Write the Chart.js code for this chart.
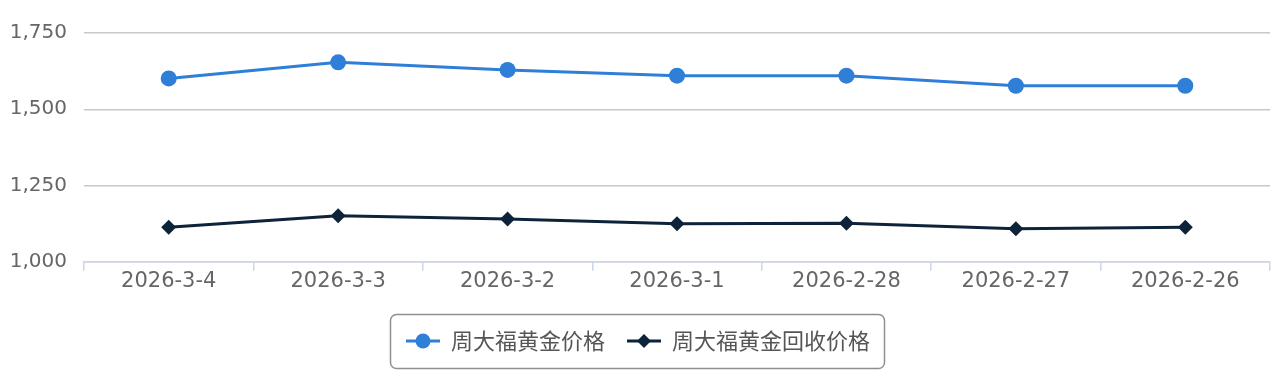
<!DOCTYPE html>
<html>
<head>
<meta charset="utf-8">
<script src="https://cdn.jsdelivr.net/npm/chart.js@4.4.1/dist/chart.umd.min.js"></script>
<style>
  html, body { margin: 0; padding: 0; background: #fff; }
  #wrap { width: 1280px; height: 371px; }
</style>
</head>
<body>
<div id="wrap"><canvas id="chart"></canvas></div>
<script>
// data
const dates = ['2026-3-4', '2026-3-3', '2026-3-2', '2026-3-1', '2026-2-28', '2026-2-27', '2026-2-26'];
const goldPrice = [1601, 1654, 1629, 1610, 1610, 1577, 1577];
const recyclePrice = [1113, 1151, 1140, 1125, 1126, 1108, 1113];
const seriesNames = ['周大福黄金价格', '周大福黄金回收价格'];
const yTicks = [1000, 1250, 1500, 1750];

const BLUE = '#2f7ed8';
const NAVY = '#0d233a';
const FONT = 'DejaVu Sans, "Noto Sans CJK SC", sans-serif';

// legend icon: short line with the marker in the middle
function legendIcon(color, shape) {
  const c = document.createElement('canvas');
  c.width = 34;
  c.height = 18;
  const ctx = c.getContext('2d');
  ctx.strokeStyle = color;
  ctx.fillStyle = color;
  ctx.lineWidth = 3;
  ctx.beginPath();
  ctx.moveTo(0, 9);
  ctx.lineTo(34, 9);
  ctx.stroke();
  ctx.beginPath();
  if (shape === 'circle') {
    ctx.arc(17, 9, 7.5, 0, Math.PI * 2);
  } else {
    ctx.moveTo(17, 2);
    ctx.lineTo(24, 9);
    ctx.lineTo(17, 16);
    ctx.lineTo(10, 9);
    ctx.closePath();
  }
  ctx.fill();
  return c;
}

// rounded border round the legend
const legendBox = {
  id: 'legendBox',
  afterDraw(chart) {
    const boxes = chart.legend && chart.legend.legendHitBoxes;
    if (!boxes || !boxes.length) return;
    const left = Math.min(...boxes.map((b) => b.left)) - 16;
    const right = Math.max(...boxes.map((b) => b.left + b.width)) + 14;
    const top = Math.min(...boxes.map((b) => b.top)) - 16;
    const bottom = Math.max(...boxes.map((b) => b.top + b.height)) + 16;
    const { ctx } = chart;
    ctx.save();
    ctx.strokeStyle = '#909090';
    ctx.lineWidth = 1.5;
    ctx.beginPath();
    ctx.roundRect(left + 0.5, top + 0.5, right - left, bottom - top, 6);
    ctx.stroke();
    ctx.restore();
  },
};

new Chart(document.getElementById('chart'), {
  type: 'line',
  data: {
    labels: dates,
    datasets: [
      {
        label: seriesNames[0],
        data: goldPrice,
        borderColor: BLUE,
        backgroundColor: BLUE,
        borderWidth: 3,
        pointStyle: 'circle',
        pointRadius: 8,
        pointHoverRadius: 8,
        pointBorderWidth: 0,
        tension: 0,
      },
      {
        label: seriesNames[1],
        data: recyclePrice,
        borderColor: NAVY,
        backgroundColor: NAVY,
        borderWidth: 3,
        pointStyle: 'rectRot',
        pointRadius: 7.5,
        pointHoverRadius: 7.5,
        pointBorderWidth: 0,
        tension: 0,
      },
    ],
  },
  options: {
    responsive: true,
    maintainAspectRatio: false,
    animation: false,
    layout: { padding: { left: 6, right: 10, top: 33, bottom: 9 } },
    scales: {
      x: {
        offset: true,
        afterFit(axis) { axis.height += 16; },
        grid: {
          display: true,
          offset: true,
          drawOnChartArea: false,
          drawTicks: true,
          tickLength: 9,
          color: '#ccd6eb',
          lineWidth: 1.5,
        },
        border: { display: true, color: '#ccd6eb', width: 1.5 },
        ticks: {
          color: '#666',
          font: { family: FONT, size: 21 },
          padding: -2,
          maxRotation: 0,
        },
      },
      y: {
        min: 1000,
        max: 1750,
        afterFit(axis) { axis.width = 78; },
        afterBuildTicks(axis) {
          axis.ticks = yTicks.map((v) => ({ value: v }));
        },
        grid: { color: '#c8c8c8', lineWidth: 1.5, drawTicks: false },
        border: { display: false },
        ticks: {
          color: '#666',
          font: { family: FONT, size: 20 },
          padding: 17,
          callback: (v) => v.toLocaleString('en-US'),
        },
      },
    },
    plugins: {
      tooltip: { enabled: false },
      legend: {
        position: 'bottom',
        labels: {
          usePointStyle: true,
          pointStyleWidth: 34,
          color: '#555',
          font: { family: '"Noto Sans CJK SC", sans-serif', size: 22 },
          padding: 22,
          generateLabels(chart) {
            return chart.data.datasets.map((ds, i) => ({
              text: ds.label,
              datasetIndex: i,
              fontColor: '#555',
              pointStyle: legendIcon(ds.borderColor, i === 0 ? 'circle' : 'diamond'),
              lineWidth: 0,
              strokeStyle: 'transparent',
              fillStyle: ds.backgroundColor,
            }));
          },
        },
      },
    },
  },
  plugins: [legendBox],
});
</script>
</body>
</html>
